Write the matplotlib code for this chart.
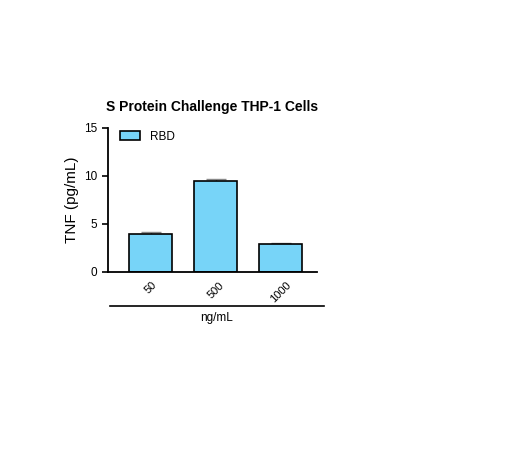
import matplotlib.pyplot as plt
import numpy as np

plt.rcParams["font.family"] = ["Liberation Sans", "DejaVu Sans"]

# data
doses = ["50", "500", "1000"]
tnf_mean = [3.95, 9.45, 2.88]
tnf_err = [0.2, 0.22, 0.05]
series = "RBD"

fig = plt.figure(figsize=(5.07, 4.62), dpi=100)
ax = fig.add_axes([0.213, 0.412, 0.412, 0.312])

x = np.arange(len(doses))
ax.bar(x, tnf_mean, width=0.65, color="#77d4f8", edgecolor="black",
       linewidth=1.2, label=series, zorder=2)
ax.errorbar(x, tnf_mean, yerr=[np.zeros(len(x)), tnf_err], fmt="none",
            ecolor="#888888", elinewidth=1, capsize=7, capthick=1, zorder=1)

ax.set_xlim(-0.654, 2.557)
ax.set_ylim(0, 15)
ax.set_yticks([0, 5, 10, 15])
ax.set_xticks(x)
ax.set_xticklabels(doses, rotation=45, fontsize=8, ha="center",
                   rotation_mode="default")
ax.tick_params(axis="y", labelsize=8.5, length=4, width=1.2)
ax.tick_params(axis="x", length=0, pad=6)
for s in ["top", "right"]:
    ax.spines[s].set_visible(False)
for s in ["left", "bottom"]:
    ax.spines[s].set_linewidth(1.3)

ax.set_ylabel("TNF (pg/mL)", fontsize=11)
ax.set_title("S Protein Challenge THP-1 Cells", fontsize=10,
             fontweight="bold", pad=12)

ax.legend(loc="upper left", frameon=False, fontsize=8.5,
          handlelength=1.7, handleheight=0.8, borderaxespad=0.1,
          bbox_to_anchor=(0.03, 1.02))

# group underline and axis title
fig.lines.append(plt.Line2D([110 / 507, 324 / 507], [1 - 306 / 462, 1 - 306 / 462],
                            color="black", linewidth=1.2,
                            transform=fig.transFigure))
fig.text(217 / 507, 1 - 318 / 462, "ng/mL", ha="center", va="center",
         fontsize=8.5)

fig.savefig("out.png", dpi=100)
